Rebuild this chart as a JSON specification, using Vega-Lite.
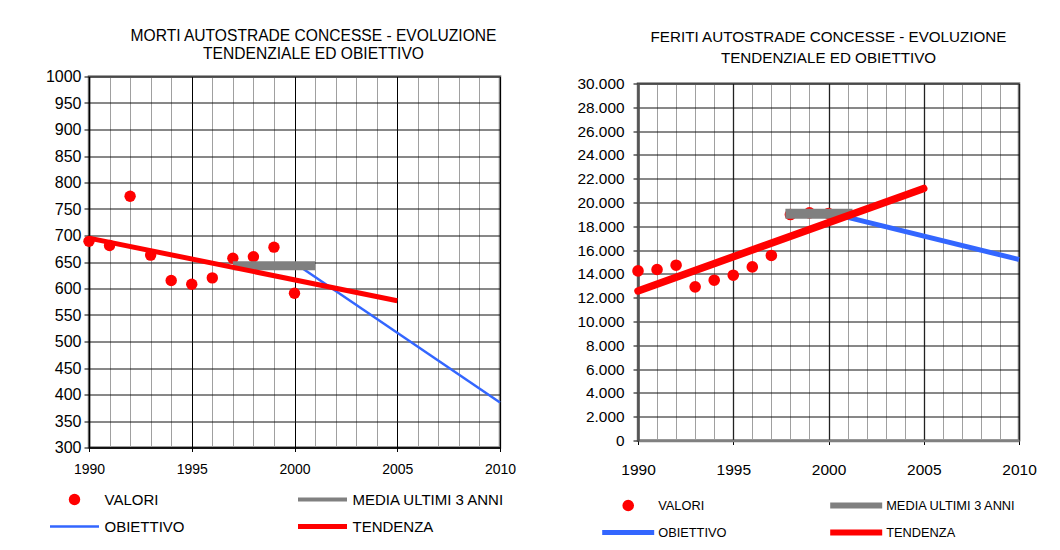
{
  "$schema": "https://vega.github.io/schema/vega-lite/v6.json",
  "background": "white",
  "padding": {"left": 44, "top": 27.5, "right": 5, "bottom": 5},
  "datasets": {
    "morti": [
      {"year": 1990, "value": 689, "series": "VALORI"},
      {"year": 1991, "value": 681, "series": "VALORI"},
      {"year": 1992, "value": 774, "series": "VALORI"},
      {"year": 1993, "value": 663, "series": "VALORI"},
      {"year": 1994, "value": 615, "series": "VALORI"},
      {"year": 1995, "value": 608, "series": "VALORI"},
      {"year": 1996, "value": 620, "series": "VALORI"},
      {"year": 1997, "value": 657, "series": "VALORI"},
      {"year": 1998, "value": 660, "series": "VALORI"},
      {"year": 1999, "value": 678, "series": "VALORI"},
      {"year": 2000, "value": 591, "series": "VALORI"},
      {"year": 1990, "value": 695, "series": "TENDENZA"},
      {"year": 2005, "value": 577, "series": "TENDENZA"},
      {"year": 1997, "value": 643, "series": "MEDIA ULTIMI 3 ANNI"},
      {"year": 2001, "value": 643, "series": "MEDIA ULTIMI 3 ANNI"},
      {"year": 2000, "value": 648, "series": "OBIETTIVO"},
      {"year": 2010, "value": 385, "series": "OBIETTIVO"}
    ],
    "feriti": [
      {"year": 1990, "value": 14250, "series": "VALORI"},
      {"year": 1991, "value": 14370, "series": "VALORI"},
      {"year": 1992, "value": 14730, "series": "VALORI"},
      {"year": 1993, "value": 12910, "series": "VALORI"},
      {"year": 1994, "value": 13470, "series": "VALORI"},
      {"year": 1995, "value": 13890, "series": "VALORI"},
      {"year": 1996, "value": 14590, "series": "VALORI"},
      {"year": 1997, "value": 15550, "series": "VALORI"},
      {"year": 1998, "value": 18990, "series": "VALORI"},
      {"year": 1999, "value": 19130, "series": "VALORI"},
      {"year": 2000, "value": 19080, "series": "VALORI"},
      {"year": 1990, "value": 12570, "series": "TENDENZA"},
      {"year": 2005, "value": 21180, "series": "TENDENZA"},
      {"year": 1998, "value": 19050, "series": "MEDIA ULTIMI 3 ANNI"},
      {"year": 2001, "value": 19050, "series": "MEDIA ULTIMI 3 ANNI"},
      {"year": 2000, "value": 19150, "series": "OBIETTIVO"},
      {"year": 2010, "value": 15210, "series": "OBIETTIVO"}
    ]
  },
  "spacing": 138,
  "bounds": "flush",
  "center": true,
  "resolve": {
    "scale": {"fill": "independent", "stroke": "independent", "shape": "independent", "size": "independent", "strokeWidth": "independent"},
    "legend": {"fill": "independent", "stroke": "independent", "shape": "independent", "size": "independent", "strokeWidth": "independent"}
  },
  "config": {
    "view": {"stroke": "#808080", "strokeWidth": 2.5},
    "axis": {"title": null, "labelColor": "#000", "tickColor": "#000", "domainColor": "#000"}
  },
  "hconcat": [
    {
      "width": 411,
      "height": 371,
      "title": {
        "text": ["MORTI AUTOSTRADE CONCESSE - EVOLUZIONE", "TENDENZIALE ED OBIETTIVO"],
        "font": "Liberation Sans", "fontSize": 15.6, "fontWeight": "normal", "color": "#000",
        "lineHeight": 18, "frame": "group", "anchor": "middle", "dx": 19, "offset": 6
      },
      "data": {"name": "morti"},
      "encoding": {
        "x": {
          "field": "year", "type": "quantitative",
          "scale": {"domain": [1990, 2010], "nice": false, "zero": false},
          "axis": {
            "values": [1990,1991,1992,1993,1994,1995,1996,1997,1998,1999,2000,2001,2002,2003,2004,2005,2006,2007,2008,2009,2010],
            "format": "d",
            "labelExpr": "datum.value % 5 === 0 ? datum.label : ''",
            "labelOverlap": false, "labelFlush": false,
            "labelFont": "Liberation Sans", "labelFontSize": 14,
            "labelPadding": 10.5, "tickSize": 4,
            "tickColor": {"condition": {"test": "datum.value % 5 === 0", "value": "#000000"}, "value": "transparent"},
            "grid": true,
            "gridColor": {"condition": {"test": "datum.value % 5 === 0", "value": "#000000"}, "value": "#a0a0a0"},
            "gridWidth": 1,
            "domainColor": "#000", "domainWidth": 1.5
          }
        },
        "y": {
          "field": "value", "type": "quantitative",
          "scale": {"domain": [300, 1000], "nice": false, "zero": false},
          "axis": {
            "values": [300,350,400,450,500,550,600,650,700,750,800,850,900,950,1000],
            "format": "d",
            "labelFont": "Liberation Sans", "labelFontSize": 16,
            "labelPadding": 3, "tickSize": 5,
            "grid": true, "gridColor": "#111111", "gridWidth": 1,
            "domainColor": "#000", "domainWidth": 1.5
          }
        }
      },
      "layer": [
        {
          "transform": [{"filter": "datum.series === 'VALORI'"}],
          "mark": {"type": "point", "filled": true, "opacity": 1},
          "encoding": {
            "fill": {"field": "series", "type": "nominal",
              "scale": {"domain": ["VALORI", "MEDIA ULTIMI 3 ANNI", "OBIETTIVO", "TENDENZA"], "range": ["#ff0000", "transparent", "transparent", "transparent"]},
              "legend": {"title": null, "orient": "none", "direction": "horizontal", "legendX": -41.5, "legendY": 409.5, "columns": 2, "columnPadding": 110, "rowPadding": 0, "clipHeight": 27, "labelFont": "Liberation Sans", "labelFontSize": 15, "labelColor": "#000", "labelOffset": 3, "symbolOpacity": 1, "padding": 0, "labelLimit": 300}},
            "stroke": {"field": "series", "type": "nominal",
              "scale": {"domain": ["VALORI", "MEDIA ULTIMI 3 ANNI", "OBIETTIVO", "TENDENZA"], "range": ["#ff0000", "#808080", "#3366ff", "#ff0000"]},
              "legend": {"title": null, "orient": "none", "direction": "horizontal", "legendX": -41.5, "legendY": 409.5, "columns": 2, "columnPadding": 110, "rowPadding": 0, "clipHeight": 27, "labelFont": "Liberation Sans", "labelFontSize": 15, "labelColor": "#000", "labelOffset": 3, "symbolOpacity": 1, "padding": 0, "labelLimit": 300}},
            "shape": {"field": "series", "type": "nominal",
              "scale": {"domain": ["VALORI", "MEDIA ULTIMI 3 ANNI", "OBIETTIVO", "TENDENZA"], "range": ["circle", "stroke", "stroke", "stroke"]},
              "legend": {"title": null, "orient": "none", "direction": "horizontal", "legendX": -41.5, "legendY": 409.5, "columns": 2, "columnPadding": 110, "rowPadding": 0, "clipHeight": 27, "labelFont": "Liberation Sans", "labelFontSize": 15, "labelColor": "#000", "labelOffset": 3, "symbolOpacity": 1, "padding": 0, "labelLimit": 300}},
            "size": {"field": "series", "type": "nominal",
              "scale": {"type": "ordinal", "domain": ["VALORI", "MEDIA ULTIMI 3 ANNI", "OBIETTIVO", "TENDENZA"], "range": [130, 2401, 2401, 2401]},
              "legend": {"title": null, "orient": "none", "direction": "horizontal", "legendX": -41.5, "legendY": 409.5, "columns": 2, "columnPadding": 110, "rowPadding": 0, "clipHeight": 27, "labelFont": "Liberation Sans", "labelFontSize": 15, "labelColor": "#000", "labelOffset": 3, "symbolOpacity": 1, "padding": 0, "labelLimit": 300}},
            "strokeWidth": {"field": "series", "type": "nominal",
              "scale": {"type": "ordinal", "domain": ["VALORI", "MEDIA ULTIMI 3 ANNI", "OBIETTIVO", "TENDENZA"], "range": [0, 4, 2.5, 5]},
              "legend": {"title": null, "orient": "none", "direction": "horizontal", "legendX": -41.5, "legendY": 409.5, "columns": 2, "columnPadding": 110, "rowPadding": 0, "clipHeight": 27, "labelFont": "Liberation Sans", "labelFontSize": 15, "labelColor": "#000", "labelOffset": 3, "symbolOpacity": 1, "padding": 0, "labelLimit": 300}}
          }
        },
        {
          "transform": [{"filter": "datum.series === 'OBIETTIVO'"}],
          "mark": {"type": "line", "color": "#3366ff", "strokeWidth": 2.5}
        },
        {
          "transform": [{"filter": "datum.series === 'MEDIA ULTIMI 3 ANNI'"}],
          "mark": {"type": "line", "color": "#808080", "strokeWidth": 9, "strokeCap": "butt"}
        },
        {
          "transform": [{"filter": "datum.series === 'TENDENZA'"}],
          "mark": {"type": "line", "color": "#ff0000", "strokeWidth": 5}
        }
      ]
    },
    {
      "width": 381,
      "height": 357,
      "title": {
        "text": ["FERITI AUTOSTRADE CONCESSE - EVOLUZIONE", "TENDENZIALE ED OBIETTIVO"],
        "font": "Liberation Sans", "fontSize": 15.2, "fontWeight": "normal", "color": "#000",
        "lineHeight": 20.6, "frame": "group", "anchor": "middle", "offset": 10.5
      },
      "data": {"name": "feriti"},
      "encoding": {
        "x": {
          "field": "year", "type": "quantitative",
          "scale": {"domain": [1990, 2010], "nice": false, "zero": false},
          "axis": {
            "values": [1990,1991,1992,1993,1994,1995,1996,1997,1998,1999,2000,2001,2002,2003,2004,2005,2006,2007,2008,2009,2010],
            "format": "d",
            "labelExpr": "datum.value % 5 === 0 ? datum.label : ''",
            "labelOverlap": false, "labelFlush": false,
            "labelFont": "Liberation Sans", "labelFontSize": 15.5,
            "labelPadding": 17.5, "tickSize": 4,
            "tickColor": {"condition": {"test": "datum.value % 5 === 0", "value": "#000000"}, "value": "transparent"},
            "grid": true,
            "gridColor": {"condition": {"test": "datum.value % 5 === 0", "value": "#222222"}, "value": "#a0a0a0"},
            "gridWidth": {"condition": {"test": "datum.value % 5 === 0", "value": 1.3}, "value": 1},
            "domainColor": "#808080", "domainWidth": 2.5
          }
        },
        "y": {
          "field": "value", "type": "quantitative",
          "scale": {"domain": [0, 30000], "nice": false, "zero": false},
          "axis": {
            "values": [0,2000,4000,6000,8000,10000,12000,14000,16000,18000,20000,22000,24000,26000,28000,30000],
            "labelExpr": "replace(format(datum.value, ','), ',', '.')",
            "labelFont": "Liberation Sans", "labelFontSize": 15.4,
            "labelPadding": 9, "tickSize": 5,
            "grid": true, "gridColor": "#111111", "gridWidth": 1,
            "domainColor": "#555555", "domainWidth": 2.5
          }
        }
      },
      "layer": [
        {
          "transform": [{"filter": "datum.series === 'VALORI'"}],
          "mark": {"type": "point", "filled": true, "opacity": 1},
          "encoding": {
            "fill": {"field": "series", "type": "nominal",
              "scale": {"domain": ["VALORI", "MEDIA ULTIMI 3 ANNI", "OBIETTIVO", "TENDENZA"], "range": ["#ff0000", "transparent", "transparent", "transparent"]},
              "legend": {"title": null, "orient": "none", "direction": "horizontal", "legendX": -38.8, "legendY": 408.5, "columns": 2, "columnPadding": 100, "rowPadding": 0, "clipHeight": 27, "labelFont": "Liberation Sans", "labelFontSize": 12.8, "labelColor": "#000", "labelOffset": 1, "symbolOpacity": 1, "padding": 0, "labelLimit": 300}},
            "stroke": {"field": "series", "type": "nominal",
              "scale": {"domain": ["VALORI", "MEDIA ULTIMI 3 ANNI", "OBIETTIVO", "TENDENZA"], "range": ["#ff0000", "#808080", "#3366ff", "#ff0000"]},
              "legend": {"title": null, "orient": "none", "direction": "horizontal", "legendX": -38.8, "legendY": 408.5, "columns": 2, "columnPadding": 100, "rowPadding": 0, "clipHeight": 27, "labelFont": "Liberation Sans", "labelFontSize": 12.8, "labelColor": "#000", "labelOffset": 1, "symbolOpacity": 1, "padding": 0, "labelLimit": 300}},
            "shape": {"field": "series", "type": "nominal",
              "scale": {"domain": ["VALORI", "MEDIA ULTIMI 3 ANNI", "OBIETTIVO", "TENDENZA"], "range": ["circle", "stroke", "stroke", "stroke"]},
              "legend": {"title": null, "orient": "none", "direction": "horizontal", "legendX": -38.8, "legendY": 408.5, "columns": 2, "columnPadding": 100, "rowPadding": 0, "clipHeight": 27, "labelFont": "Liberation Sans", "labelFontSize": 12.8, "labelColor": "#000", "labelOffset": 1, "symbolOpacity": 1, "padding": 0, "labelLimit": 300}},
            "size": {"field": "series", "type": "nominal",
              "scale": {"type": "ordinal", "domain": ["VALORI", "MEDIA ULTIMI 3 ANNI", "OBIETTIVO", "TENDENZA"], "range": [135, 2704, 2704, 2704]},
              "legend": {"title": null, "orient": "none", "direction": "horizontal", "legendX": -38.8, "legendY": 408.5, "columns": 2, "columnPadding": 100, "rowPadding": 0, "clipHeight": 27, "labelFont": "Liberation Sans", "labelFontSize": 12.8, "labelColor": "#000", "labelOffset": 1, "symbolOpacity": 1, "padding": 0, "labelLimit": 300}},
            "strokeWidth": {"field": "series", "type": "nominal",
              "scale": {"type": "ordinal", "domain": ["VALORI", "MEDIA ULTIMI 3 ANNI", "OBIETTIVO", "TENDENZA"], "range": [0, 6, 5, 6]},
              "legend": {"title": null, "orient": "none", "direction": "horizontal", "legendX": -38.8, "legendY": 408.5, "columns": 2, "columnPadding": 100, "rowPadding": 0, "clipHeight": 27, "labelFont": "Liberation Sans", "labelFontSize": 12.8, "labelColor": "#000", "labelOffset": 1, "symbolOpacity": 1, "padding": 0, "labelLimit": 300}}
          }
        },
        {
          "transform": [{"filter": "datum.series === 'OBIETTIVO'"}],
          "mark": {"type": "line", "color": "#3366ff", "strokeWidth": 5}
        },
        {
          "transform": [{"filter": "datum.series === 'MEDIA ULTIMI 3 ANNI'"}],
          "mark": {"type": "line", "color": "#808080", "strokeWidth": 10, "strokeCap": "square"}
        },
        {
          "transform": [{"filter": "datum.series === 'TENDENZA'"}],
          "mark": {"type": "line", "color": "#ff0000", "strokeWidth": 7.5, "strokeCap": "round"}
        }
      ]
    }
  ]
}
